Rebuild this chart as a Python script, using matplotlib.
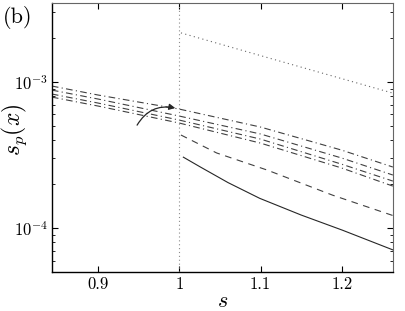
import matplotlib
matplotlib.use('Agg')
import matplotlib.pyplot as plt
import numpy as np

plt.rcParams['font.family'] = 'serif'
plt.rcParams['font.serif'] = ['cmr10', 'DejaVu Serif']
plt.rcParams['mathtext.fontset'] = 'cm'
plt.rcParams['axes.formatter.use_mathtext'] = True

# dash-dot curves
s_dd = [0.843, 0.9, 1.0, 1.1, 1.2, 1.263]
dd_1 = [9.39e-4, 8.15e-4, 6.53e-4, 4.92e-4, 3.42e-4, 2.62e-4]
dd_2 = [8.81e-4, 7.65e-4, 5.85e-4, 4.41e-4, 3.02e-4, 2.31e-4]
dd_3 = [8.28e-4, 7.18e-4, 5.49e-4, 4.07e-4, 2.74e-4, 2.10e-4]
dd_4 = [7.89e-4, 6.85e-4, 5.24e-4, 3.82e-4, 2.58e-4, 1.94e-4]

# dashed curve
s_dash = [1.002, 1.046, 1.108, 1.189, 1.263]
dash = [4.34e-4, 3.27e-4, 2.50e-4, 1.68e-4, 1.22e-4]

# solid curve
s_sol = [1.005, 1.026, 1.06, 1.099, 1.15, 1.201, 1.263]
sol = [3.06e-4, 2.62e-4, 2.05e-4, 1.60e-4, 1.23e-4, 9.68e-5, 7.1e-5]

# dotted curve
s_dot = [1.002, 1.13, 1.263]
dot = [2.17e-3, 1.36e-3, 8.4e-4]

xticks = [0.9, 1.0, 1.1, 1.2]
xticklabels = ['0.9', '1', '1.1', '1.2']

fig = plt.figure(figsize=(4.05, 3.11), dpi=100)
ax = fig.add_axes([0.128, 0.125, 0.842, 0.865])

for yy in [dd_1, dd_2, dd_3, dd_4]:
    ax.plot(s_dd, yy, color='0.25', linewidth=0.8, linestyle=(0, (6, 3, 1, 3)))
ax.plot(s_dash, dash, color='0.25', linewidth=0.8, linestyle=(0, (6, 5)))
ax.plot(s_sol, sol, color='0.15', linewidth=0.8)
ax.plot(s_dot, dot, color='0.4', linewidth=0.8, linestyle=(0, (1, 3)))
ax.axvline(1.0, color='0.55', linewidth=0.8, linestyle=(0, (1, 2.5)))

ax.annotate('', xy=(0.995, 6.64e-4), xytext=(0.948, 5.07e-4),
            arrowprops=dict(arrowstyle='-|>', color='0.15', lw=0.9,
                            connectionstyle='arc3,rad=-0.35',
                            mutation_scale=9, shrinkA=0, shrinkB=0))

ax.set_yscale('log')
ax.set_xlim(0.843, 1.263)
ax.set_ylim(5.0e-5, 3.47e-3)
ax.set_xticks(xticks)
ax.set_xticklabels(xticklabels)
ax.tick_params(axis='both', which='both', direction='in', top=True, right=True,
               labelsize=12)
ax.tick_params(axis='both', which='major', length=4, pad=3)
ax.tick_params(axis='y', which='minor', length=2.5)
ax.yaxis.set_minor_locator(matplotlib.ticker.LogLocator(subs=np.arange(2, 10)))
ax.yaxis.set_minor_formatter(matplotlib.ticker.NullFormatter())

ax.spines['left'].set_linewidth(1.0)
ax.spines['bottom'].set_linewidth(1.0)
ax.spines['top'].set_color('0.4')
ax.spines['right'].set_color('0.4')

ax.set_xlabel('$s$', fontsize=16, labelpad=0)
ax.set_ylabel('$s_p(x)$', fontsize=17)
ax.yaxis.set_label_coords(-0.068, 0.53)
fig.text(0.008, 0.925, '(b)', fontsize=16)

plt.savefig('out.png', dpi=100)
